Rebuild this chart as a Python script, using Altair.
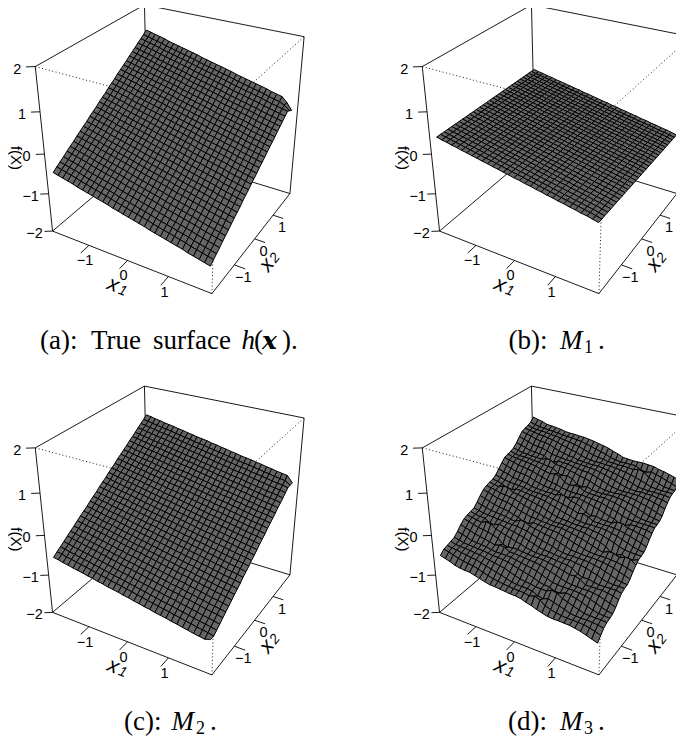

import altair as alt, numpy as np, pandas as pd
alt.data_transformers.disable_max_rows()

# perspective camera read from the box, ticks and corners of the first panel
CAMERA = np.array([[34.782062, 31.384700, -5.522332, 175.176489],
                   [7.627868, -13.688530, -44.220331, 136.327700],
                   [-0.028601, 0.046996, -0.030976, 1.0]])
PANEL_OFFSET = {"a": (0, 0), "b": (387, 0), "c": (0, 381.3), "d": (387, 381.3)}
GRID = [-1.9,-1.77,-1.65,-1.52,-1.39,-1.27,-1.14,-1.01,-0.89,-0.76,-0.63,-0.51,-0.38,-0.25,-0.13,0,0.13,0.25,0.38,0.51,0.63,0.76,0.89,1.01,1.14,1.27,1.39,1.52,1.65,1.77,1.9]
X1_TERM = {
 "a": [0.47,0.44,0.41,0.38,0.35,0.31,0.28,0.25,0.22,0.19,0.16,0.13,0.09,0.06,0.03,0,-0.03,-0.06,-0.09,-0.13,-0.16,-0.19,-0.22,-0.25,-0.28,-0.31,-0.35,-0.38,-0.41,-0.44,-0.47],
 "b": [0.39,0.36,0.34,0.31,0.29,0.26,0.24,0.21,0.19,0.16,0.14,0.11,0.09,0.06,0.04,0.01,-0.01,-0.04,-0.06,-0.09,-0.11,-0.14,-0.16,-0.19,-0.21,-0.24,-0.26,-0.29,-0.31,-0.34,-0.37],
 "c": [0.38,0.36,0.33,0.31,0.28,0.26,0.24,0.21,0.19,0.16,0.14,0.11,0.09,0.07,0.04,0.02,-0.01,-0.03,-0.06,-0.08,-0.11,-0.13,-0.15,-0.18,-0.2,-0.23,-0.25,-0.28,-0.3,-0.32,-0.35],
 "d": [0.37,0.34,0.32,0.29,0.27,0.24,0.22,0.19,0.17,0.15,0.12,0.1,0.07,0.05,0.02,0,-0.02,-0.05,-0.07,-0.1,-0.12,-0.15,-0.17,-0.19,-0.22,-0.24,-0.27,-0.29,-0.32,-0.34,-0.37],
}
X2_TERM = {
 "a": [-0.95,-0.88,-0.82,-0.76,-0.69,-0.63,-0.57,-0.5,-0.44,-0.38,-0.32,-0.25,-0.19,-0.13,-0.06,0,0.06,0.13,0.19,0.25,0.32,0.38,0.44,0.5,0.57,0.63,0.69,0.76,0.82,0.88,0.95],
 "b": [0]*31,
 "c": [-0.95,-0.88,-0.82,-0.76,-0.69,-0.63,-0.57,-0.5,-0.44,-0.38,-0.32,-0.25,-0.19,-0.13,-0.06,0,0.06,0.13,0.19,0.25,0.32,0.38,0.44,0.5,0.57,0.63,0.69,0.76,0.82,0.88,0.95],
 "d": [-0.92,-0.85,-0.79,-0.73,-0.67,-0.61,-0.55,-0.49,-0.43,-0.37,-0.31,-0.24,-0.18,-0.12,-0.06,0,0.06,0.12,0.18,0.24,0.31,0.37,0.43,0.49,0.55,0.61,0.67,0.73,0.79,0.85,0.92],
}
CORNER_BUMPS = {"a": {(30,30):-0.22,(30,29):-0.1,(29,30):-0.08,(29,29):-0.03}, "b": {}, "c": {(30,30):-0.12,(30,29):-0.05,(30,0):0.08}, "d": {}}
# panel d: departures from the plane, rows along x1, columns along x2
M3_ROUGH_UNIT = 0.0075
M3_ROUGH = [
[4,6,2,-2,-5,-2,4,7,4,-1,-5,-3,3,7,5,1,-4,-5,0,5,7,3,-2,-5,-2,4,7,4,-1,-4,-2],
[3,6,3,-3,-6,-3,2,6,4,-2,-6,-5,1,6,6,1,-4,-6,-2,3,6,3,-3,-6,-3,2,6,4,-2,-5,-3],
[1,4,3,-2,-7,-5,0,4,3,-2,-7,-6,-1,4,5,1,-5,-7,-3,1,5,3,-3,-7,-5,0,5,4,-2,-6,-4],
[-2,2,4,1,-5,-7,-2,3,4,1,-5,-7,-3,2,4,3,-2,-7,-6,-1,4,5,1,-5,-7,-2,3,4,1,-4,-6],
[-3,1,4,2,-3,-6,-3,3,5,2,-4,-6,-4,2,5,4,-1,-5,-6,0,4,6,2,-4,-6,-2,3,5,2,-3,-5],
[-1,2,5,4,-1,-4,-2,4,6,4,-2,-4,-2,4,6,5,1,-3,-4,2,5,7,3,-1,-4,0,5,6,3,-1,-3],
[1,3,6,5,1,-3,-3,2,6,5,0,-3,-3,2,6,6,3,-2,-4,0,4,7,5,0,-3,-2,4,6,4,0,-3],
[0,2,5,5,2,-3,-5,0,4,5,2,-4,-5,-1,4,6,3,-2,-6,-2,2,6,5,1,-4,-5,1,5,5,1,-3],
[-2,-1,3,4,2,-3,-6,-3,2,4,3,-3,-6,-4,1,5,4,-1,-6,-5,0,4,5,2,-3,-6,-2,3,4,2,-2],
[-4,-3,1,4,4,0,-5,-5,0,4,5,0,-5,-6,-1,4,5,2,-4,-6,-2,3,6,4,0,-5,-4,1,4,4,0],
[-4,-4,0,4,6,3,-3,-6,-2,3,6,3,-3,-6,-2,3,6,4,-2,-5,-3,2,6,6,2,-3,-4,0,4,5,2],
[-2,-4,-1,4,6,5,0,-4,-3,2,6,5,0,-4,-3,2,6,6,1,-3,-3,1,5,6,4,-1,-3,-1,3,6,4],
[0,-3,-3,1,5,5,2,-3,-5,0,4,5,2,-3,-5,-1,4,6,3,-2,-5,-2,3,5,4,0,-4,-4,1,5,5],
[1,-2,-5,-2,3,5,3,-2,-6,-3,2,4,3,-2,-6,-4,2,5,4,-1,-6,-5,0,4,4,2,-3,-6,-2,3,5],
[3,0,-4,-4,2,5,5,0,-5,-5,0,4,5,0,-5,-6,0,4,5,2,-4,-6,-2,3,5,4,-1,-5,-4,2,5],
[5,2,-2,-4,1,5,6,3,-3,-5,-1,4,6,3,-3,-5,-2,3,6,4,-2,-5,-3,2,6,5,1,-4,-4,0,4],
[5,4,0,-3,-2,3,6,5,0,-4,-3,2,6,5,0,-4,-4,1,5,6,1,-3,-4,0,5,6,4,-1,-4,-2,2],
[3,4,2,-3,-5,0,4,5,2,-3,-5,-1,4,6,2,-3,-6,-2,3,5,3,-2,-6,-3,3,5,5,1,-4,-5,0],
[1,3,3,-1,-6,-3,2,4,3,-2,-6,-4,2,5,4,-1,-6,-5,1,4,4,0,-6,-6,0,4,5,3,-2,-6,-3],
[-2,1,4,2,-4,-6,0,4,5,1,-4,-6,0,4,5,2,-4,-7,-2,3,5,3,-3,-7,-3,2,5,4,0,-5,-6],
[-4,-1,4,5,0,-5,-3,3,6,4,-1,-5,-2,3,6,5,0,-5,-5,1,5,6,1,-5,-5,0,4,5,3,-2,-5],
[-5,-3,2,5,3,-3,-5,1,5,5,2,-3,-4,1,5,6,3,-2,-6,-2,3,6,4,-1,-5,-3,2,5,5,1,-3],
[-4,-5,0,4,5,0,-5,-3,3,5,4,-1,-5,-2,3,6,5,0,-5,-5,1,5,6,2,-4,-6,0,4,6,4,0],
[-1,-5,-3,2,5,3,-3,-6,0,4,5,2,-4,-6,0,4,6,3,-3,-7,-2,3,6,5,-1,-6,-3,2,5,6,3],
[2,-3,-6,-1,4,5,0,-6,-4,2,5,4,-1,-6,-4,2,5,5,0,-6,-5,1,5,6,2,-4,-6,0,4,6,5],
[4,0,-5,-4,1,5,3,-3,-6,0,4,5,2,-4,-7,-1,4,6,3,-3,-7,-3,3,6,5,0,-5,-3,2,5,6],
[5,3,-2,-6,-2,3,5,1,-5,-4,2,5,4,-1,-6,-5,1,5,5,0,-5,-6,0,4,6,3,-3,-6,0,4,5],
[4,5,1,-4,-5,0,4,4,-2,-6,-1,4,5,2,-4,-7,-2,3,6,3,-3,-7,-3,3,6,5,0,-5,-4,2,4],
[2,5,4,-1,-6,-4,2,5,2,-4,-5,1,5,5,-1,-6,-5,1,5,5,0,-6,-6,0,5,6,3,-3,-6,-1,3],
[-1,3,5,2,-4,-6,-1,4,5,-1,-6,-2,3,6,3,-4,-7,-2,4,6,3,-4,-7,-3,3,6,5,0,-5,-4,1],
[-3,1,5,4,-2,-6,-4,2,5,2,-4,-5,1,5,5,-1,-6,-5,1,5,5,-1,-6,-6,1,5,6,3,-3,-6,-2],
]
# panel d: steep dark folds (row along x1, column along x2)
M3_FOLDS = [(7,23),(10,21),(3,15),(13,18),(9,11),(8,6),(4,8),(14,21),(18,17),(25,13),(28,13),(22,7),(20,3),(24,18),(23,28),(18,1)]
FOLD_DEPTH = 0.065
TICKS = [-1, 0, 1]
Z_TICKS = [-2, -1, 0, 1, 2]
SOLID_EDGES = [((-2,-2,-2),(2,-2,-2)),((2,-2,-2),(2,2,-2)),((-2,-2,-2),(-2,2,-2)),((-2,2,-2),(2,2,-2)),
               ((-2,-2,2),(-2,2,2)),((-2,2,2),(2,2,2)),((-2,-2,-2),(-2,-2,2)),((2,2,-2),(2,2,2)),((-2,2,-2),(-2,2,2))]
DOTTED_EDGES = [((-2,-2,2),(2,-2,2)),((2,-2,2),(2,2,2)),((2,-2,-2),(2,-2,2))]
CAPTION = [
 ("(a):",40,349,"r"),("True",91,349,"r"),("surface",153,349,"r"),("h",241.5,349,"i"),("(",254,349,"r"),("x",262,349,"bi"),(")",282,349,"r"),(".",291,349,"r"),
 ("(b):",508.5,349,"r"),("M",560,349,"i"),("1",584,353,"s"),(".",598,349,"r"),
 ("(c):",124,730,"r"),("M",171.5,730,"i"),("2",196,734,"s"),(".",210,730,"r"),
 ("(d):",508,730,"r"),("M",560,730,"i"),("3",584,734,"s"),(".",598,730,"r"),
]

def project(x1, x2, z, panel):
    h = CAMERA @ np.array([x1, x2, z, 1.0])
    ox, oy = PANEL_OFFSET[panel]
    return round(h[0]/h[2]+ox, 2), round(h[1]/h[2]+oy, 2)

def height(panel, i, j):
    z = X1_TERM[panel][i] + X2_TERM[panel][j] + CORNER_BUMPS[panel].get((i, j), 0)
    if panel == "d":
        z += M3_ROUGH[i][j] * M3_ROUGH_UNIT
        for fi, fj in M3_FOLDS:
            if i in (fi, fi+1) and j == fj:
                z += FOLD_DEPTH
            if i in (fi, fi+1) and j == fj+1:
                z -= FOLD_DEPTH
    return z

# the page's svg cannot be wider than 668 px, so the view ends at page x = 676
sx = alt.Scale(domain=[8, 676], nice=False, zero=False)
sy = alt.Scale(domain=[742, 8], nice=False, zero=False)
X = alt.X("u:Q", scale=sx, axis=None)
Y = alt.Y("v:Q", scale=sy, axis=None)

def polyline_rows(segments, panel):
    rows = []
    for n, seg in enumerate(segments):
        for k, p in enumerate(seg):
            u, v = project(*p, panel)
            rows.append({"q": n, "i": k, "u": u, "v": v})
    return rows

layers = []
for panel in PANEL_OFFSET:
    dotted = alt.Chart(pd.DataFrame(polyline_rows(DOTTED_EDGES, panel))).mark_line(
        stroke="black", strokeWidth=0.9, strokeDash=[1, 2.5]).encode(x=X, y=Y, detail="q:N", order="i:Q")
    ticks = [((t,-2,-2),(t,-2.3,-2)) for t in TICKS] + [((2,t,-2),(2.25,t,-2)) for t in TICKS] + \
            [((-2,-2,t),(-2.15,-2.1,t)) for t in Z_TICKS]
    solid = alt.Chart(pd.DataFrame(polyline_rows(SOLID_EDGES + ticks, panel))).mark_line(
        stroke="black", strokeWidth=0.9).encode(x=X, y=Y, detail="q:N", order="i:Q")
    layers += [dotted, solid]
    # surface, back to front
    rows = []
    q = 0
    for i in range(30):
        for j in range(29, -1, -1):
            for k, (a, b) in enumerate([(i,j),(i+1,j),(i+1,j+1),(i,j+1),(i,j)]):
                u, v = project(GRID[a], GRID[b], height(panel, a, b), panel)
                rows.append({"q": q, "i": k, "u": u, "v": v})
            q += 1
    layers.append(alt.Chart(pd.DataFrame(rows)).mark_line(
        fill="#666666", stroke="black", strokeWidth=1.0, strokeJoin="round").encode(x=X, y=Y, detail="q:N", order="i:Q"))
    # tick labels
    lab = []
    for t in TICKS:
        u, v = project(t, -2, -2, panel); lab.append({"u": u-4, "v": v+16, "t": str(t).replace("-", "\u2212")})
        u, v = project(2, t, -2, panel); lab.append({"u": u+9, "v": v+13, "t": str(t).replace("-", "\u2212")})
    for t in Z_TICKS:
        u, v = project(-2, -2, t, panel); lab.append({"u": u-18, "v": v+3, "t": str(t).replace("-", "\u2212")})
    layers.append(alt.Chart(pd.DataFrame(lab)).mark_text(font="Liberation Sans", fontSize=14.5, color="black").encode(x=X, y=Y, text="t:N"))
    ox, oy = PANEL_OFFSET[panel]
    titles = [("f(X)", 15.5, 158, 90, 15, "normal"), ("x", 113, 285, 22, 21, "italic"), ("1", 122.5, 291, 22, 14, "italic"),
              ("x", 267, 265, 308, 21, "italic"), ("2", 275, 258, 308, 14, "italic")]
    for text, tx, ty, ang, fs, st in titles:
        layers.append(alt.Chart(pd.DataFrame([{"u": tx+ox, "v": ty+oy, "t": text}])).mark_text(
            font="Liberation Sans", fontSize=fs, fontStyle=st, angle=ang, color="black").encode(x=X, y=Y, text="t:N"))

styles = {"r": dict(font="Liberation Serif", fontSize=27), "i": dict(font="Liberation Serif", fontSize=27, fontStyle="italic"),
          "bi": dict(font="DejaVu Serif", fontSize=25, fontStyle="italic", fontWeight="bold"), "s": dict(font="Liberation Serif", fontSize=18)}
for key, st in styles.items():
    df = pd.DataFrame([{"u": c[1], "v": c[2], "t": c[0]} for c in CAPTION if c[3] == key])
    layers.append(alt.Chart(df).mark_text(align="left", baseline="alphabetic", color="black", **st).encode(x=X, y=Y, text="t:N"))

chart = alt.layer(*layers).properties(width=668, height=734, padding=0,
        autosize=alt.AutoSizeParams(type="none", contains="padding")).configure_view(stroke=None)
chart.save("out.html", embed_options={"renderer": "svg", "actions": False})
